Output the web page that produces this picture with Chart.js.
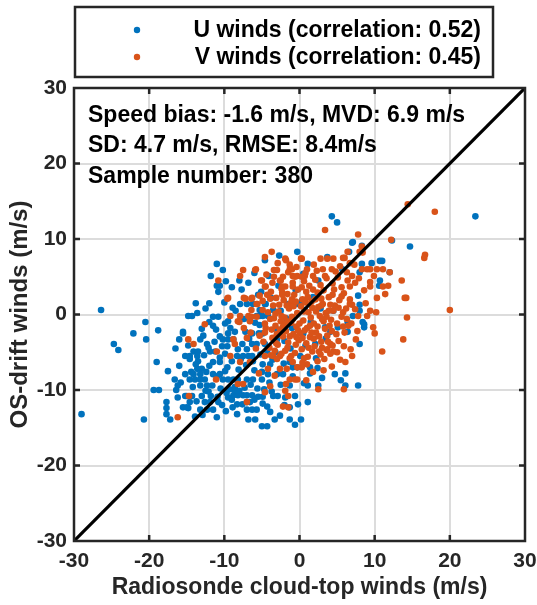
<!DOCTYPE html>
<html>
<head>
<meta charset="utf-8">
<script src="https://cdn.jsdelivr.net/npm/chart.js@4.4.1/dist/chart.umd.min.js"></script>
<style>
  html, body { margin: 0; padding: 0; background: #fff; }
  #wrap { width: 537px; height: 605px; }
</style>
</head>
<body>
<div id="wrap"><canvas id="scatter"></canvas></div>
<script>
// axis range + ticks
const axisMin = -30;
const axisMax = 30;
const tickStep = 10;

const uLabel = "U winds (correlation: 0.52)";
const vLabel = "V winds (correlation: 0.45)";
const statsText = [
  "Speed bias: -1.6 m/s, MVD: 6.9 m/s",
  "SD: 4.7 m/s, RMSE: 8.4m/s",
  "Sample number: 380"
];
const xTitle = "Radiosonde cloud-top winds (m/s)";
const yTitle = "OS-drift winds (m/s)";

// U winds [radiosonde, OS-drift]
const uWinds = [
  [-26.4,0.6],[-29.0,-13.2],[23.4,13.0],[14.7,9.0],
  [-20.5,-1.0],[-22.1,-2.5],[-18.8,-2.1],[-20.4,-3.3],[-24.7,-3.9],[-24.1,-4.7],
  [-15.5,-2.5],[-16.0,-3.3],[-14.8,-4.1],[-15.2,-5.5],[-19.0,-6.3],[-14.4,-7.6],[-16.6,-8.6],[-16.2,-9.4],
  [-19.4,-10.0],[-18.7,-10.0],[-16.4,-10.0],[-15.2,-10.8],[-17.7,-11.6],[-17.7,-12.4],[-17.7,-13.2],
  [-14.8,-12.4],[-17.2,-13.9],[-20.7,-13.9],[-14.6,-5.9],
  [-0.3,8.3],[-4.6,7.2],[-11.0,6.7],[-10.2,5.9],[-11.8,5.1],[-4.1,5.1],[-11.0,3.8],[-10.6,3.8],
  [-5.1,3.0],[-10.8,3.0],[-3.8,2.2],[-12.0,1.5],[-7.9,1.4],[-7.0,1.4],[-6.2,1.4],[-4.5,1.4],
  [-5.3,0.6],[-3.5,0.6],[-14.8,-0.2],[-14.3,-0.2],[-11.5,-0.3],[-10.8,-0.3],[-4.2,-0.2],
  [0.5,5.4],[-5.5,2.6],[-4.6,1.4],[-1.5,1.4],[-0.3,1.4],[0.7,0.6],[-5.3,-0.2],[-9.5,-0.9],
  [-8.6,-2.3],[-7.2,-2.3],[-5.7,-0.2],[-4.9,-0.2],[-11.5,-1.5],[-5.9,-1.1],[-5.3,-1.4],
  [-15.5,-2.3],[-13.2,-3.3],[-12.3,-3.9],[-10.2,-3.3],[-9.5,-3.3],[-8.8,-3.3],[-6.3,-2.5],[-5.4,-2.5],[-4.9,-2.5],
  [-14.1,-4.9],[-13.5,-4.9],[-14.6,-5.5],[-13.6,-5.5],[-11.9,-4.9],[-11.2,-4.9],[-10.3,-4.2],[-9.6,-4.2],
  [-8.2,-4.6],[-7.0,-4.6],[-6.3,-3.9],[-5.7,-3.9],[-4.6,-3.9],
  [-8.3,-5.5],[-7.5,-5.5],[-6.8,-5.5],[-6.3,-5.5],[-10.6,-5.7],[-11.5,-6.3],[-10.6,-6.3],[-9.6,-7.0],
  [-4.9,-6.6],[-3.9,-6.6],[-1.3,-6.3],[-0.3,-7.0],
  [-13.6,-7.2],[-13.0,-7.2],[-15.2,-7.9],[-14.1,-7.9],[-13.2,-7.9],[-11.5,-7.9],[-10.6,-7.9],
  [-14.6,-8.6],[-13.9,-8.6],[-13.2,-8.6],[-12.6,-8.6],[-10.2,-8.6],[-9.5,-8.6],[-8.8,-8.6],[-8.2,-8.6],
  [-7.0,-8.6],[-6.2,-8.6],[-5.0,-8.6],[-3.0,-7.9],[-2.2,-7.9],
  [-13.2,-9.4],[-12.3,-9.4],[-11.6,-9.4],[-15.0,-10.8],[-14.3,-10.8],[-13.0,-10.8],
  [-8.8,-10.7],[-8.2,-10.7],[-7.5,-10.7],[-7.0,-10.7],[-6.3,-10.7],[-8.6,-10.1],[-8.0,-10.1],
  [-5.5,-10.9],[-4.9,-10.9],[-3.5,-10.8],[-2.9,-10.8],
  [-14.6,-11.6],[-15.5,-12.3],[-15.0,-12.3],[-12.6,-11.6],[-11.9,-11.6],[-13.2,-12.6],[-12.3,-12.6],
  [-11.5,-12.6],[-13.9,-13.5],[-11.0,-13.6],[-7.0,-12.6],[-6.3,-12.6],[-5.7,-12.6],[-7.0,-11.6],[-6.6,-11.6],
  [-6.8,-13.9],[-5.9,-13.9],[-5.0,-14.8],[-4.3,-14.8],[-3.3,-13.9],[-8.3,-13.2],[-1.3,-13.9],[-0.6,-14.6],
  [8.4,-1.0],[8.6,-1.7],[8.0,-3.9],[7.1,-0.2],[6.4,-1.0],[6.4,-2.3],[6.1,-7.8],[6.1,-9.4],[7.8,-9.4],
  [5.1,-1.7],[4.1,-2.3],[3.4,-1.7],[2.1,-3.9],[0.1,-5.5],[1.4,-7.0],[1.4,-7.8],[-0.9,-7.0],
  [1.1,-9.4],[2.5,-9.4],[-0.6,-10.8],[1.1,-11.6],[-1.3,-12.3],[0.2,-13.9],[-1.3,-9.4],
  [4.3,13.0],[5.0,12.2],[7.0,9.5],[8.3,9.1],[12.3,9.8],[3.7,7.6],[1.1,6.7],[10.7,7.1],[5.7,6.0],
  [8.3,6.7],[0.5,5.1],[2.5,4.5],[8.0,5.6],[7.8,2.5],[8.0,1.3],[8.0,0.5],[7.1,9.6],[6.6,8.3],
  [11.0,7.1],[12.0,5.6],[9.6,6.8],[10.7,4.5],[10.6,3.8],[8.6,-1.3],
  [-2.5,0.5],[-1.8,-0.5],[-1.0,-1.8],[0.5,-2.5],[1.5,-1.0],[-2.0,-3.5],[-3.0,-2.0],[0.3,1.8],
  [1.8,2.3],[-0.5,3.2],[2.8,0.8],[3.5,-3.2],[-1.2,-4.5],[0.8,-4.1],[-3.2,-5.0],[2.2,-5.8],
  [4.5,0.5],[-2.8,3.8],[-7.7,3.3],[-8.5,0.5],[-9.2,-1.8],[-6.6,-0.8],[-12.8,-2.8],[-13.5,-6.2],
  [-12.0,-6.8],[-10.5,-9.8],[-9.5,-11.0],[-4.0,-9.0],[-2.5,-9.3],[-4.3,-12.2],[-2.0,-12.0],
  [-9.8,-12.8],[-16.0,-6.8],[-17.5,-7.5],[-16.5,-4.5],[-12.5,0.8],[-13.8,1.5],[-9.0,3.6],[-8.0,4.5],[-6.0,5.5],
  [-12.7,-5.4],[-11.3,-3.6],[-9.9,-5.2],[-9.0,-6.2],[-8.1,-7.3],[-7.1,-6.7],[-6.0,-7.4],[-5.2,-5.3],
  [-4.3,-4.8],[-3.6,-6.0],[-12.1,-10.2],[-10.9,-10.9],[-9.3,-9.9],[-7.6,-11.9],[-6.0,-11.3],[-4.7,-9.9],
  [-3.9,-12.9],[-2.6,-13.4],[-8.9,-12.3],[-10.3,-12.0],[-12.9,-13.3],[-14.2,-9.6],[-15.8,-9.0],
  [-13.7,-11.5],[-16.2,-11.0],[-7.8,-5.9],[-6.7,-3.2],[-7.4,-0.6],[-8.9,0.9],[-10.0,1.6],[-9.5,-2.5],
  [-11.1,-2.0],[-12.0,-1.0],[-13.6,0.2],[-3.0,-3.3],[-2.1,-6.5],[-0.9,-8.2],[0.6,-9.1],[-1.9,-11.0],
  [-0.2,-11.9],[3.0,-8.4],[2.4,-7.1],[4.7,-7.9],[5.5,-8.7],[-2.7,7.8],[-6.8,4.2],[-9.8,4.4],
  [-13.8,-6.6],[-12.4,-7.6],[-11.0,-8.2],[-9.9,-7.5],[-8.6,-9.6],[-7.3,-9.7],[-6.5,-9.3],[-5.6,-9.8],
  [-10.8,-11.6],[-9.0,-11.3],[-8.3,-11.9],[-6.2,-6.2],[-5.0,-7.6],[-4.2,-7.9],[-7.6,-3.9],[-10.6,-2.9],
  [-12.1,-4.4],[-13.0,-1.9],[-9.9,-1.2],[-3.7,-10.2],[-4.9,-11.8],[-11.8,-10.8],[-12.5,-10.1],[-9.7,-10.4]
];

// V winds [radiosonde, OS-drift]
const vWinds = [
  [14.4,14.6],[18.0,13.6],[16.7,7.9],[16.6,7.5],[13.6,4.5],[14.2,2.2],[20.0,0.6],[14.3,-0.4],
  [13.8,-3.3],[11.0,-4.9],[9.0,-0.2],[9.8,-1.7],[10.0,-2.5],[7.5,-3.3],[7.0,-5.5],[6.1,-6.3],[5.9,-9.9],
  [-14.8,-3.3],[-16.2,-13.6],[-14.7,-10.8],
  [-3.7,8.3],[-4.6,7.6],[-1.8,7.2],[-7.5,5.9],[-5.9,5.9],[-1.3,6.6],[-7.9,5.1],[-3.4,5.9],[-3.0,5.9],
  [-0.9,5.1],[-0.3,5.1],[-10.8,4.5],[-5.0,4.5],[-2.6,4.5],[-4.5,3.7],[-2.3,3.7],[-2.3,2.9],[-5.3,2.5],
  [-9.6,2.1],[-7.2,2.1],[-6.4,2.1],[-4.9,1.8],[-5.7,1.4],[-6.4,0.6],[-9.2,-0.2],[-6.4,-0.3],[-5.7,-0.3],
  [-1.9,7.4],[0.2,7.4],[-5.8,6.0],[-1.0,6.0],[1.0,6.0],[-2.2,5.0],[-0.6,5.0],[0.3,5.0],[-4.6,3.7],
  [-5.1,4.5],[-2.5,4.5],[-1.9,3.7],[-0.9,3.7],[-9.5,2.2],[-7.4,2.2],[-6.3,2.2],[-4.3,2.6],[-5.6,1.4],
  [-6.6,-0.9],[-8.2,-0.9],[-7.9,-0.2],[-6.8,-0.2],[-12.6,-1.3],[-8.0,-1.0],[-14.1,-3.9],[-8.8,-3.3],
  [-7.0,-3.1],[-3.0,-2.7],[-11.0,-4.9],[-8.6,-3.9],[-4.6,-5.5],[-3.5,-5.5],[-2.6,-5.5],[-9.2,-5.5],
  [-7.9,-6.3],[-6.6,-6.3],[-3.0,-5.9],[-2.6,-7.2],[-1.7,-7.2],[-11.1,-8.6],[-8.2,-9.2],[-7.5,-9.2],
  [-1.3,-8.6],[-0.6,-8.6],[-3.9,-9.5],[-7.0,-11.6],[-4.6,-10.3],[-1.9,-10.1],[-1.5,-10.8],[-2.2,-12.2],[-1.5,-12.3],
  [1.0,-6.6],[-0.9,-6.3],[0.3,-7.0],[-0.3,-7.0],[-0.3,-8.6],[2.5,-9.9],[3.7,-4.6],[2.6,-4.9],[1.7,-4.9],
  [4.1,-3.9],[4.5,-4.9],
  [3.4,11.2],[7.8,10.6],[8.0,8.3],[6.4,8.3],[6.0,7.5],[0.3,7.4],[2.8,7.4],[4.5,7.4],[9.4,6.0],[10.3,6.0],
  [11.1,6.0],[8.3,6.0],[9.0,6.0],[12.0,5.6],[3.1,6.0],[4.3,6.0],[-1.3,6.0],[0.7,5.1],[1.8,5.1],
  [7.0,5.1],[6.4,4.5],[7.4,4.2],[6.7,3.7],[11.8,3.8],[14.0,2.2],[10.3,2.2],[9.4,4.3],[9.4,3.7],[6.7,2.0],
  [7.0,1.3],[7.8,-0.2],[10.2,0.3],[5.8,0.3],[4.5,0.5],[8.3,9.0],[8.4,8.2],[12.2,9.9],[3.7,7.4],
  [5.8,7.5],[6.7,6.8],[11.1,3.7],[11.4,2.7],[9.4,0.5],
  [-3.5,1.2],[-2.8,0.4],[-2.1,1.9],[-1.4,0.8],[-0.7,2.6],[0.2,1.1],[0.9,3.0],[1.6,1.7],[2.4,2.9],
  [3.1,1.4],[3.9,2.3],[4.6,3.3],[5.3,1.9],[5.9,2.8],
  [-3.9,-0.6],[-3.2,-1.5],[-2.5,-0.9],[-1.8,-2.2],[-1.0,-0.3],[-0.4,-1.6],[0.5,-0.8],[1.2,0.3],
  [1.9,-1.2],[2.7,-0.2],[3.4,-1.9],[4.2,-0.7],[4.9,-2.6],[5.6,-0.3],
  [-3.6,-3.1],[-2.9,-4.0],[-2.2,-2.9],[-1.5,-3.7],[-0.8,-2.6],[-0.1,-3.4],[0.7,-2.1],[1.4,-3.0],
  [2.2,-2.4],[2.9,-3.6],[3.7,-2.8],[4.4,-4.1],[5.2,-3.5],
  [-3.3,-4.8],[-2.4,-5.2],[-1.6,-4.4],[-0.6,-5.1],[0.3,-4.6],[1.1,-5.6],[2.0,-4.2],[2.8,-5.3],[3.6,-4.7],
  [-3.8,3.0],[-3.1,2.2],[-2.4,3.4],[-1.6,2.7],[-0.9,4.2],[-0.2,3.3],[0.6,4.4],[1.3,3.8],[2.1,4.6],
  [2.8,3.9],[3.6,4.8],[4.4,4.1],[5.1,4.9],
  [-4.2,0.3],[-4.5,-1.8],[-4.8,-3.6],[-4.0,-4.4],[6.2,0.8],[6.5,-1.5],[6.0,-2.4],[5.6,3.6],
  [-2.0,-0.4],[-1.2,1.5],[-0.3,0.2],[0.4,2.0],[1.0,-1.8],[1.7,0.9],[2.5,1.0],[3.2,-0.9],[3.9,0.5],[4.7,1.2],
  [-2.6,-2.0],[-1.9,-1.3],[-1.1,-1.1],[-0.5,-4.0],[0.1,-2.5],[0.9,-3.8],[1.6,-2.4],[2.4,-1.6],[3.0,-0.6],[4.0,-1.5],
  [-3.0,-2.6],[-3.7,-2.0],[-1.3,-5.8],[0.6,-5.8],[2.4,-6.2],[3.3,-5.9],[4.1,-5.2],[5.0,-5.0],
  [-4.4,5.3],[-3.6,4.2],[-2.9,6.8],[-1.5,5.6],[-0.4,6.3],[0.8,5.5],[1.9,6.6],[2.3,5.8],[3.4,5.1],
  [4.8,5.7],[5.4,6.4],[6.3,5.6],[7.3,6.6],[7.9,4.8],[8.6,3.2],[9.9,5.1],[8.8,1.5],[7.4,0.7],[6.9,-1.2],
  [7.7,-2.2],[5.9,-4.2],[6.8,-4.6],[5.4,-6.0],[4.3,-6.9],[3.2,-7.4],[1.8,-7.6],[0.9,-8.7],[-1.8,-9.2],
  [-3.3,-8.1],[-4.2,-7.2],[-5.4,-7.8],[-5.8,-4.5],[-6.5,-2.4],[-7.4,-1.8],[-5.3,-2.8],[-4.6,-1.2],
  [-4.9,0.6],[-3.4,-0.5],[-1.6,-0.9],[-0.8,1.1],[0.6,0.4],[1.5,-0.4],[2.1,2.0],[3.5,0.2],[4.3,-2.2],
  [5.2,0.9],[5.8,-1.6],[6.7,1.4],[0.0,-1.2],[-2.2,-1.6],[-1.3,-2.9],[0.4,-3.1],[1.9,-3.2],[3.0,-4.4],
  [-2.7,1.3],[-3.9,2.1],[-1.0,2.0],[1.1,2.3],[2.9,2.1],[4.1,1.3],
  [-3.2,0.1],[-2.4,-0.2],[-1.7,1.2],[-0.9,-0.6],[-0.2,-2.1],[0.8,1.6],[1.4,-1.5],[2.2,0.4],[2.9,1.2],
  [3.6,-0.3],[4.4,2.6],[-3.1,-3.8],[-1.9,-4.8],[-0.4,-3.0],[1.2,-4.4],[2.6,-2.9],[3.8,-3.6],[-2.3,2.6],
  [-0.5,1.7],[0.3,3.6],[1.8,3.3],[3.2,3.2],[-3.4,5.0],[-1.1,-5.5],[0.4,-6.4],[5.0,-1.2],[5.6,2.4],
  [6.3,-0.6],[-4.6,-2.4],[-3.8,-5.4]
];

const oneToOne = [[axisMin, axisMin], [axisMax, axisMax]];

const BLUE = "#0072BD";
const ORANGE = "#D95319";
const INK = "#262626";
const FONT = "'Liberation Sans', Arial, Helvetica, sans-serif";

const toXY = arr => arr.map(p => ({ x: p[0], y: p[1] }));

// legend box, stats text, axis frame with inward ticks
const decor = {
  id: "decor",
  afterDraw(c) {
    const ctx = c.ctx;
    const a = c.chartArea;
    const xs = c.scales.x, ys = c.scales.y;
    ctx.save();

    // frame
    ctx.strokeStyle = INK;
    ctx.lineWidth = 2.5;
    ctx.strokeRect(a.left, a.top, a.right - a.left, a.bottom - a.top);

    // inward ticks
    for (let v = axisMin + tickStep; v < axisMax; v += tickStep) {
      const px = xs.getPixelForValue(v);
      const py = ys.getPixelForValue(v);
      ctx.beginPath();
      ctx.moveTo(px, a.bottom); ctx.lineTo(px, a.bottom - 6);
      ctx.moveTo(px, a.top); ctx.lineTo(px, a.top + 6);
      ctx.moveTo(a.left, py); ctx.lineTo(a.left + 6, py);
      ctx.moveTo(a.right, py); ctx.lineTo(a.right - 6, py);
      ctx.stroke();
    }

    // stats text
    ctx.fillStyle = "#000";
    ctx.font = "bold 23px " + FONT;
    ctx.textAlign = "left";
    ctx.textBaseline = "middle";
    statsText.forEach((t, i) => ctx.fillText(t, a.left + 14, a.top + 27.5 + i * 30.5));

    // legend (U first, as in the figure)
    ctx.fillStyle = "#fff";
    ctx.fillRect(75, 7, 418, 70);
    ctx.strokeStyle = INK;
    ctx.lineWidth = 2.5;
    ctx.strokeRect(75, 7, 418, 70);
    const items = c.data.datasets.filter(d => d.label).sort((p, q) => q.order - p.order);
    items.forEach((d, i) => {
      const y = 30 + i * 27;
      ctx.fillStyle = d.backgroundColor;
      ctx.beginPath();
      ctx.arc(137, y, 3.2, 0, Math.PI * 2);
      ctx.fill();
      ctx.fillStyle = "#000";
      ctx.font = "bold 23px " + FONT;
      ctx.textAlign = "right";
      ctx.fillText(d.label, 481, y + 1);
    });
    ctx.restore();
  }
};

const axisCommon = {
  type: "linear",
  min: axisMin,
  max: axisMax,
  border: { display: false },
  grid: { color: "#dcdcdc", lineWidth: 2, drawTicks: false },
  ticks: {
    stepSize: tickStep,
    color: INK,
    font: { family: FONT, size: 21, weight: "bold" }
  }
};

new Chart(document.getElementById("scatter"), {
  type: "scatter",
  data: {
    datasets: [
      {
        type: "line",
        data: toXY(oneToOne),
        borderColor: "#000",
        borderWidth: 3.2,
        pointRadius: 0,
        showLine: true,
        order: 0
      },
      {
        label: vLabel,
        data: toXY(vWinds),
        backgroundColor: ORANGE,
        borderWidth: 0,
        pointRadius: 3.3,
        order: 1
      },
      {
        label: uLabel,
        data: toXY(uWinds),
        backgroundColor: BLUE,
        borderWidth: 0,
        pointRadius: 3.3,
        order: 2
      }
    ]
  },
  options: {
    responsive: true,
    maintainAspectRatio: false,
    animation: false,
    layout: { padding: { top: 88, right: 12, left: 0, bottom: 0 } },
    plugins: {
      legend: { display: false },
      tooltip: { enabled: false }
    },
    scales: {
      x: {
        ...axisCommon,
        ticks: { ...axisCommon.ticks, padding: 8 },
        title: {
          display: true, text: xTitle, color: INK,
          font: { family: FONT, size: 23, weight: "bold" }, padding: { top: 0 }
        },
        afterFit: s => { s.height = 64; s.paddingLeft = 0; s.paddingRight = 0; }
      },
      y: {
        ...axisCommon,
        ticks: { ...axisCommon.ticks, padding: 7 },
        title: {
          display: true, text: yTitle, color: INK,
          font: { family: FONT, size: 24, weight: "bold" }, padding: { top: 6, bottom: 0 }
        },
        afterFit: s => { s.width = 74; s.paddingTop = 0; s.paddingBottom = 0; }
      }
    }
  },
  plugins: [decor]
});
</script>
</body>
</html>
